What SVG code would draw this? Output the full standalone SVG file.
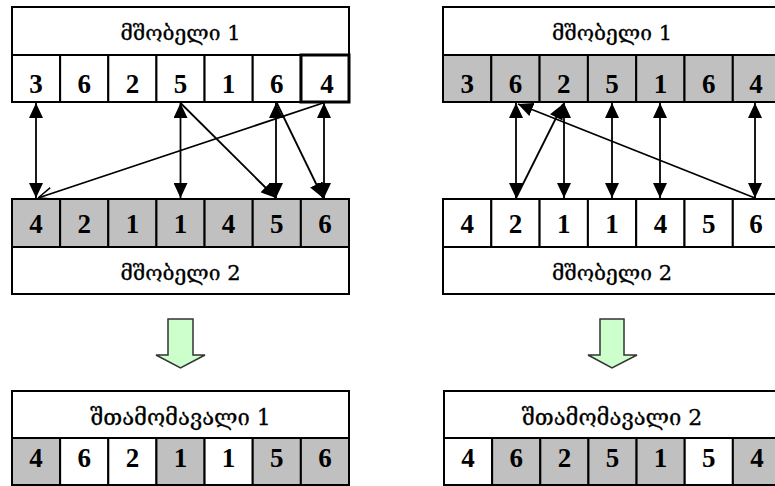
<svg xmlns="http://www.w3.org/2000/svg" width="775" height="486" viewBox="0 0 775 486">
<style>
.box{fill:#fff;stroke:#000;stroke-width:2}
.g{fill:#c0c0c0;stroke:#000;stroke-width:2}
.w{fill:#fff;stroke:#000;stroke-width:2}
.hd{font-family:"DejaVu Serif","DejaVu Sans",serif;font-size:21px;text-anchor:middle;fill:#000;stroke:#000;stroke-width:0.3}
.hc{font-size:22px}
.n{font-family:"Liberation Serif","Times New Roman",serif;font-weight:bold;font-size:27px;text-anchor:middle;fill:#000}
.c{stroke:#000;stroke-width:1.8;fill:none}
.big{fill:#ccffcc;stroke:#333;stroke-width:1.5}
</style>
<defs>
<marker id="ah" viewBox="0 0 15 14" refX="15" refY="7" markerWidth="15" markerHeight="14" markerUnits="userSpaceOnUse" orient="auto-start-reverse"><path d="M0,0 L15,7 L0,14 z" fill="#000"/></marker>
<marker id="oh" viewBox="0 0 15 14" refX="15" refY="7" markerWidth="15" markerHeight="14" markerUnits="userSpaceOnUse" orient="auto"><path d="M0,1 L15,7 L0,13" fill="none" stroke="#000" stroke-width="1.5"/></marker>
</defs>

<!-- LEFT PANEL -->
<g id="left-parent1">
<rect class="box" x="12" y="7" width="337" height="48"/>
<text class="hd" x="180.5" y="39.5">მშობელი 1</text>
<rect class="w" x="12" y="55" width="48.14" height="47"/>
<rect class="w" x="60.14" y="55" width="48.14" height="47"/>
<rect class="w" x="108.29" y="55" width="48.14" height="47"/>
<rect class="w" x="156.43" y="55" width="48.14" height="47"/>
<rect class="w" x="204.57" y="55" width="48.14" height="47"/>
<rect class="w" x="252.71" y="55" width="48.14" height="47"/>
<rect class="w" x="301" y="55" width="48" height="47" style="stroke-width:3"/>
<text class="n" x="36" y="93">3</text>
<text class="n" x="84.2" y="93">6</text>
<text class="n" x="132.4" y="93">2</text>
<text class="n" x="180.5" y="93">5</text>
<text class="n" x="228.6" y="93">1</text>
<text class="n" x="276.8" y="93">6</text>
<text class="n" x="327" y="93">4</text>
</g>

<g id="left-parent2">
<rect class="g" x="12" y="199" width="48.14" height="48"/>
<rect class="g" x="60.14" y="199" width="48.14" height="48"/>
<rect class="g" x="108.29" y="199" width="48.14" height="48"/>
<rect class="g" x="156.43" y="199" width="48.14" height="48"/>
<rect class="g" x="204.57" y="199" width="48.14" height="48"/>
<rect class="g" x="252.71" y="199" width="48.14" height="48"/>
<rect class="g" x="300.86" y="199" width="48.14" height="48"/>
<rect class="box" x="12" y="247" width="337" height="47"/>
<text class="hd" x="180.5" y="280">მშობელი 2</text>
<text class="n" x="36" y="233">4</text>
<text class="n" x="84.2" y="233">2</text>
<text class="n" x="132.4" y="233">1</text>
<text class="n" x="180.5" y="233">1</text>
<text class="n" x="228.6" y="233">4</text>
<text class="n" x="276.8" y="233">5</text>
<text class="n" x="324.9" y="233">6</text>
</g>

<g id="left-child">
<rect class="box" x="12" y="391" width="337" height="47"/>
<text class="hd hc" x="180.5" y="425">შთამომავალი 1</text>
<rect class="g" x="12" y="438" width="48.14" height="47"/>
<rect class="w" x="60.14" y="438" width="48.14" height="47"/>
<rect class="w" x="108.29" y="438" width="48.14" height="47"/>
<rect class="g" x="156.43" y="438" width="48.14" height="47"/>
<rect class="w" x="204.57" y="438" width="48.14" height="47"/>
<rect class="g" x="252.71" y="438" width="48.14" height="47"/>
<rect class="g" x="300.86" y="438" width="48.14" height="47"/>
<text class="n" x="36" y="467">4</text>
<text class="n" x="84.2" y="467">6</text>
<text class="n" x="132.4" y="467">2</text>
<text class="n" x="180.5" y="467">1</text>
<text class="n" x="228.6" y="467">1</text>
<text class="n" x="276.8" y="467">5</text>
<text class="n" x="324.9" y="467">6</text>
</g>

<g id="left-down-arrow">
<polygon class="big" points="168,319 193,319 193,355 205,355 180.5,368 156,355 168,355"/>
</g>

<!-- RIGHT PANEL -->
<g id="right-parent1">
<rect class="box" x="443" y="7" width="338" height="48"/>
<text class="hd" x="612" y="39.5">მშობელი 1</text>
<rect class="g" x="443" y="55" width="48.3" height="47"/>
<rect class="g" x="491.3" y="55" width="48.3" height="47"/>
<rect class="g" x="539.6" y="55" width="48.3" height="47"/>
<rect class="g" x="587.9" y="55" width="48.3" height="47"/>
<rect class="g" x="636.2" y="55" width="48.3" height="47"/>
<rect class="g" x="684.5" y="55" width="48.3" height="47"/>
<rect class="g" x="732.8" y="55" width="48.3" height="47"/>
<text class="n" x="467.2" y="93">3</text>
<text class="n" x="515.5" y="93">6</text>
<text class="n" x="563.8" y="93">2</text>
<text class="n" x="612" y="93">5</text>
<text class="n" x="660.4" y="93">1</text>
<text class="n" x="708.7" y="93">6</text>
<text class="n" x="756" y="93">4</text>
</g>

<g id="right-parent2">
<rect class="w" x="443" y="199" width="48.3" height="48"/>
<rect class="w" x="491.3" y="199" width="48.3" height="48"/>
<rect class="w" x="539.6" y="199" width="48.3" height="48"/>
<rect class="w" x="587.9" y="199" width="48.3" height="48"/>
<rect class="w" x="636.2" y="199" width="48.3" height="48"/>
<rect class="w" x="684.5" y="199" width="48.3" height="48"/>
<rect class="w" x="732.8" y="199" width="48.3" height="48"/>
<rect class="box" x="443" y="247" width="338" height="47"/>
<text class="hd" x="612" y="280">მშობელი 2</text>
<text class="n" x="467.2" y="233">4</text>
<text class="n" x="515.5" y="233">2</text>
<text class="n" x="563.8" y="233">1</text>
<text class="n" x="612" y="233">1</text>
<text class="n" x="660.4" y="233">4</text>
<text class="n" x="708.7" y="233">5</text>
<text class="n" x="756" y="233">6</text>
</g>

<g id="right-child">
<rect class="box" x="444" y="391" width="337" height="47"/>
<text class="hd hc" x="612" y="425">შთამომავალი 2</text>
<rect class="w" x="444" y="438" width="48.14" height="47"/>
<rect class="g" x="492.14" y="438" width="48.14" height="47"/>
<rect class="g" x="540.29" y="438" width="48.14" height="47"/>
<rect class="g" x="588.43" y="438" width="48.14" height="47"/>
<rect class="g" x="636.57" y="438" width="48.14" height="47"/>
<rect class="w" x="684.71" y="438" width="48.14" height="47"/>
<rect class="g" x="732.86" y="438" width="48.14" height="47"/>
<text class="n" x="468" y="467">4</text>
<text class="n" x="516.2" y="467">6</text>
<text class="n" x="564.4" y="467">2</text>
<text class="n" x="612.5" y="467">5</text>
<text class="n" x="660.6" y="467">1</text>
<text class="n" x="708.8" y="467">5</text>
<text class="n" x="757" y="467">4</text>
</g>

<g id="right-down-arrow">
<polygon class="big" points="600,319 624,319 624,355 637,355 612,368 588,355 600,355"/>
</g>

<g id="connectors">
<line class="c" x1="36" y1="103" x2="36" y2="198" marker-start="url(#ah)" marker-end="url(#ah)"/>
<line class="c" x1="180.5" y1="103" x2="180.5" y2="198" marker-start="url(#ah)" marker-end="url(#ah)"/>
<line class="c" x1="276" y1="103" x2="276" y2="198" marker-start="url(#ah)" marker-end="url(#ah)"/>
<line class="c" x1="324" y1="103" x2="324" y2="198" marker-start="url(#ah)" marker-end="url(#ah)"/>
<line class="c" x1="180.5" y1="103" x2="276" y2="198" marker-end="url(#ah)"/>
<line class="c" x1="276.8" y1="103" x2="323" y2="198" marker-end="url(#ah)"/>
<line class="c" x1="323" y1="103" x2="38" y2="198" marker-end="url(#oh)"/>

<line class="c" x1="516" y1="103" x2="516" y2="198" marker-start="url(#ah)" marker-end="url(#ah)"/>
<line class="c" x1="564" y1="103" x2="564" y2="198" marker-start="url(#ah)" marker-end="url(#ah)"/>
<line class="c" x1="612" y1="103" x2="612" y2="198" marker-start="url(#ah)" marker-end="url(#ah)"/>
<line class="c" x1="660" y1="103" x2="660" y2="198" marker-start="url(#ah)" marker-end="url(#ah)"/>
<line class="c" x1="755" y1="103" x2="755" y2="198" marker-start="url(#ah)" marker-end="url(#ah)"/>
<line class="c" x1="516" y1="198" x2="563" y2="104" marker-end="url(#ah)"/>
<line class="c" x1="755" y1="198" x2="518" y2="104" marker-end="url(#ah)"/>
</g>
</svg>
